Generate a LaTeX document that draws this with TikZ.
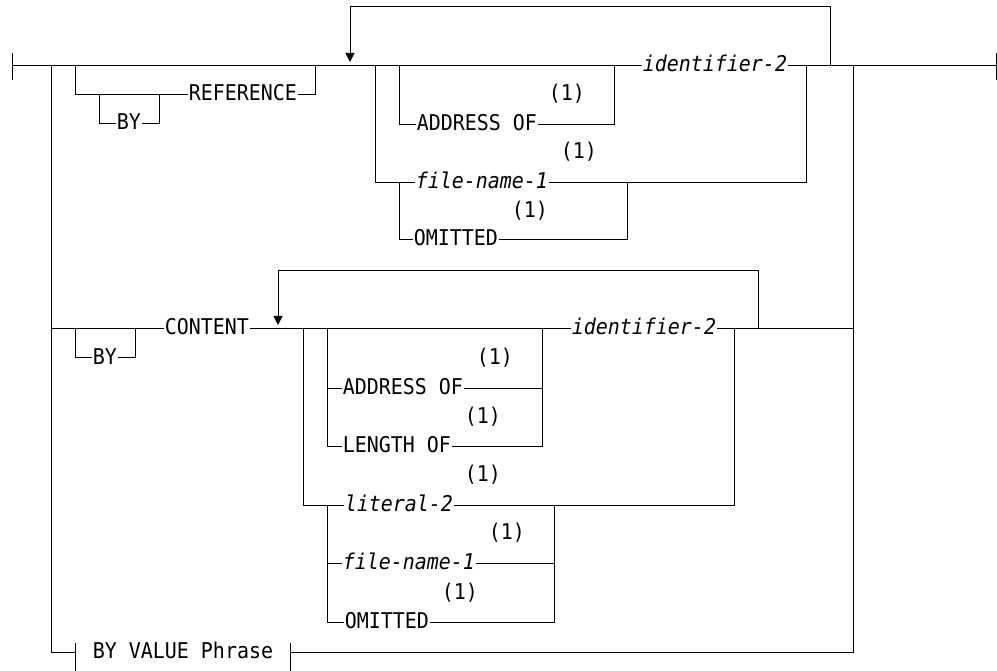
\documentclass[tikz,border=0pt]{standalone}
\usepackage{fontspec}
\newfontfamily\dfont[FakeStretch=0.92]{DejaVu Sans Mono}
\usetikzlibrary{arrows.meta}
\begin{document}
\begin{tikzpicture}[x=1pt,y=-1pt,line width=1pt,
  txt/.style={font=\dfont\fontsize{21.7}{26}\selectfont,inner sep=0pt,outer sep=0.8pt,text height=12pt,text depth=0pt,anchor=west},
  var/.style={txt,font=\dfont\itshape\fontsize{21.7}{26}\selectfont},
  backarrow/.style={-{Triangle[width=9pt,length=9pt]}}]
\useasboundingbox (0,0) rectangle (997,671);
% ---- nodes, first group
\node[var] (id1) at (642,66) {identifier-2};
\node[txt] (ref) at (188,95) {REFERENCE};
\node[txt] (by1) at (116,124) {BY};
\node[txt] (addr1) at (416,125) {ADDRESS OF};
\node[txt] (n1) at (548,95) {(1)};
\node[var] (fn1) at (415,183) {file-name-1};
\node[txt] (n2) at (560,153) {(1)};
\node[txt] (om1) at (413,240) {OMITTED};
\node[txt] (n3) at (511,212) {(1)};
% ---- BY VALUE
\node[txt] (byv) at (92,652) {BY VALUE Phrase};
% ---- CONTENT group
\node[txt] (by2) at (92,358) {BY};
\node[txt] (cont) at (164,329) {CONTENT};
\node[var] (id2) at (571,329) {identifier-2};
\node[txt] (addr2) at (342,388) {ADDRESS OF};
\node[txt] (n4) at (476,358) {(1)};
\node[txt] (len) at (342,446) {LENGTH OF};
\node[txt] (n5) at (464,417) {(1)};
\node[var] (lit) at (344,505) {literal-2};
\node[txt] (n6) at (464,475) {(1)};
\node[var] (fn2) at (342,563) {file-name-1};
\node[txt] (n7) at (488,533) {(1)};
\node[txt] (om2) at (344,622) {OMITTED};
\node[txt] (n8) at (441,593) {(1)};
% ---- main line
\draw (12,53) -- (12,80);
\draw (12,66) -- (id1);
\draw (id1) -- (996,66);
\draw (996,53) -- (996,80);
% REFERENCE
\draw (75,66) |- (ref);
\draw (ref) -| (315,66);
\draw (99,95) |- (by1);
\draw (by1) -| (159,95);
% repeat loop 1
\draw[backarrow] (830,66) -- (830,7) -- (350,7) -- (350,62);
\draw (375,66) |- (fn1);
\draw (fn1) -| (806,66);
\draw (399,66) |- (addr1);
\draw (addr1) -| (614,66);
\draw (399,183) |- (om1);
\draw (om1) -| (627,183);
% outer branch and BY VALUE
\draw (51,66) |- (75,652);
\draw (75,643) -- (75,671);
\draw (290,643) -- (290,671);
\draw (290,652) -| (853,66);
% CONTENT
\draw (51,329) -- (cont);
\draw (75,329) |- (by2);
\draw (by2) -| (135,329);
\draw (cont) -- (id2);
\draw (id2) -- (853,329);
\draw[backarrow] (758,329) -- (758,271) -- (278,271) -- (278,325);
\draw (303,329) |- (lit);
\draw (lit) -| (734,329);
\draw (327,329) |- (len);
\draw (327,388) -- (addr2);
\draw (addr2) -- (542,388);
\draw (len) -| (542,329);
\draw (327,505) |- (om2);
\draw (327,563) -- (fn2);
\draw (fn2) -- (554,563);
\draw (om2) -| (554,505);
\end{tikzpicture}
\end{document}
